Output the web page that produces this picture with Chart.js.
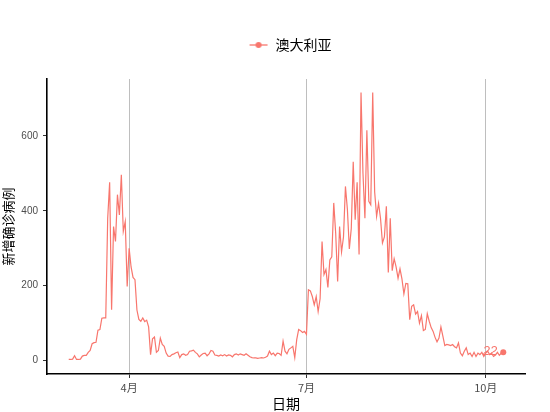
<!DOCTYPE html>
<html>
<head>
<meta charset="utf-8">
<script src="https://cdn.jsdelivr.net/npm/chart.js@4/dist/chart.umd.min.js"></script>
<style>
  html, body { margin: 0; padding: 0; background: #ffffff; }
  #wrap { width: 550px; height: 412px; }
</style>
</head>
<body>
<div id="wrap"><canvas id="c" width="550" height="412"></canvas></div>
<script>
// ---- data ----
const seriesName = '澳大利亚';
const startDate = '2020-03-01';
const cases = [
  3,3,4,13,3,3,4,12,14,14,22,27,45,48,49,81,83,113,114,114,380,476,136,358,318,443,389,496,345,371,198,
  300,250,222,216,135,110,105,114,104,108,90,16,58,63,22,27,60,43,38,20,12,11,16,18,21,23,8,16,18,14,
  16,25,26,28,22,18,10,15,19,20,13,18,27,25,15,14,12,15,13,16,12,15,14,10,16,18,15,18,16,14,
  18,14,10,8,7,7,6,7,8,7,9,12,25,16,20,13,20,19,14,52,25,18,30,34,38,8,56,83,80,75,78,70,
  189,186,171,149,171,131,165,318,230,243,195,269,277,421,340,211,358,290,330,465,404,298,353,531,376,476,283,716,
  500,380,615,425,416,716,450,385,420,380,314,330,412,235,380,240,272,250,220,245,218,178,206,205,109,145,149,124,131,100,
  120,80,83,125,105,88,78,62,50,60,90,65,40,43,42,40,43,37,34,47,20,13,25,34,16,20,11,22,11,20,16,22,11,20,25,16,20,11,15,22,14,20,22
];
const tickDates = ['2020-04-01', '2020-07-01', '2020-10-01'];
const tickLabels = ['4月', '7月', '10月'];
const yTicks = [0, 200, 400, 600];
const xTitle = '日期';
const yTitle = '新增确诊病例';

// ---- derived ----
const DAY = 86400000;
const t0 = Date.parse(startDate + 'T00:00:00Z');
const tickDays = tickDates.map(d => Math.round((Date.parse(d + 'T00:00:00Z') - t0) / DAY));
const points = cases.map((v, i) => ({ x: i, y: v }));
const lastIdx = cases.length - 1;
const xPad = 0.05 * lastIdx;
const yMax = Math.max(...cases);
const yPad = 0.05 * yMax;

const COLOR = '#F8766D';
const CJK = '"Noto Sans CJK SC", "Liberation Sans", sans-serif';
const NUM = '"Liberation Sans", Arial, sans-serif';

// legend symbol: line with point
const sym = document.createElement('canvas');
sym.width = 20; sym.height = 10;
(function () {
  const g = sym.getContext('2d');
  g.strokeStyle = COLOR; g.lineWidth = 1.3;
  g.beginPath(); g.moveTo(1, 5); g.lineTo(19, 5); g.stroke();
  g.fillStyle = COLOR;
  g.beginPath(); g.arc(10, 5, 3, 0, Math.PI * 2); g.fill();
})();

const legendBox = {
  id: 'legendBox',
  beforeInit(chart) {
    const orig = chart.legend.fit;
    chart.legend.fit = function () { orig.call(this); this.height = 51; };
  },
  afterUpdate(chart) {
    const lg = chart.legend;
    if (!lg) return;
    const ca = chart.chartArea;
    const half = (lg.right - lg.left) / 2;
    const mid = (ca.left + ca.right) / 2 + 4;
    lg.left = mid - half; lg.right = mid + half;
    if (lg.adjustHitBoxes) lg.adjustHitBoxes();
  }
};

const lastLabel = {
  id: 'lastLabel',
  afterDatasetsDraw(chart) {
    const el = chart.getDatasetMeta(0).data[lastIdx];
    if (!el) return;
    const g = chart.ctx;
    g.save();
    g.font = 'italic 13px ' + NUM;
    g.fillStyle = COLOR;
    g.textAlign = 'right';
    g.textBaseline = 'middle';
    g.fillText(String(cases[lastIdx]), el.x - 6, el.y - 1);
    g.restore();
  }
};

new Chart(document.getElementById('c'), {
  type: 'line',
  data: {
    datasets: [{
      label: seriesName,
      data: points,
      borderColor: COLOR,
      backgroundColor: COLOR,
      borderWidth: 1.2,
      tension: 0,
      pointRadius: ctx => (ctx.dataIndex === lastIdx ? 3 : 0),
      pointHoverRadius: 0,
      pointBorderWidth: 0,
      pointStyle: 'circle'
    }]
  },
  options: {
    responsive: false,
    devicePixelRatio: 1,
    animation: false,
    events: [],
    layout: { padding: { top: 28, right: 25, bottom: 0, left: 0 } },
    plugins: {
      legend: {
        display: true,
        position: 'top',
        labels: {
          usePointStyle: true,
          pointStyleWidth: 20,
          font: { family: CJK, size: 14 },
          color: '#000000',
          padding: 10,
          generateLabels: chart => [{
            text: seriesName,
            pointStyle: sym,
            fillStyle: COLOR,
            strokeStyle: COLOR,
            lineWidth: 0,
            fontColor: '#000000',
            datasetIndex: 0
          }]
        }
      },
      tooltip: { enabled: false }
    },
    scales: {
      x: {
        type: 'linear',
        min: -xPad,
        max: lastIdx + xPad,
        afterBuildTicks: s => { s.ticks = tickDays.map(v => ({ value: v })); },
        afterFit: s => { s.height = 38; },
        ticks: {
          autoSkip: false, maxRotation: 0, padding: 3,
          color: '#4D4D4D', font: { family: CJK, size: 11 },
          callback: v => { const k = tickDays.indexOf(v); return k >= 0 ? tickLabels[k] : ''; }
        },
        grid: {
          display: true, drawOnChartArea: true, drawTicks: true,
          color: '#BEBEBE', lineWidth: 1, tickColor: '#333333', tickLength: 4
        },
        border: { display: true, color: '#000000', width: 1.6 },
        title: {
          display: true, text: xTitle, color: '#000000',
          font: { family: CJK, size: 14 }, padding: { top: 0, bottom: 0 }
        }
      },
      y: {
        type: 'linear',
        min: -yPad,
        max: yMax + yPad,
        afterBuildTicks: s => { s.ticks = yTicks.map(v => ({ value: v })); },
        afterFit: s => { s.width = 47; },
        ticks: {
          padding: 5, color: '#4D4D4D', font: { family: NUM, size: 10 }
        },
        grid: {
          display: true, drawOnChartArea: false, drawTicks: true,
          tickColor: '#333333', tickLength: 4
        },
        border: { display: true, color: '#000000', width: 1.6 },
        title: {
          display: true, text: yTitle, color: '#000000',
          font: { family: CJK, size: 13 }, padding: { top: 0, bottom: 2 }
        }
      }
    }
  },
  plugins: [legendBox, lastLabel]
});
</script>
</body>
</html>
